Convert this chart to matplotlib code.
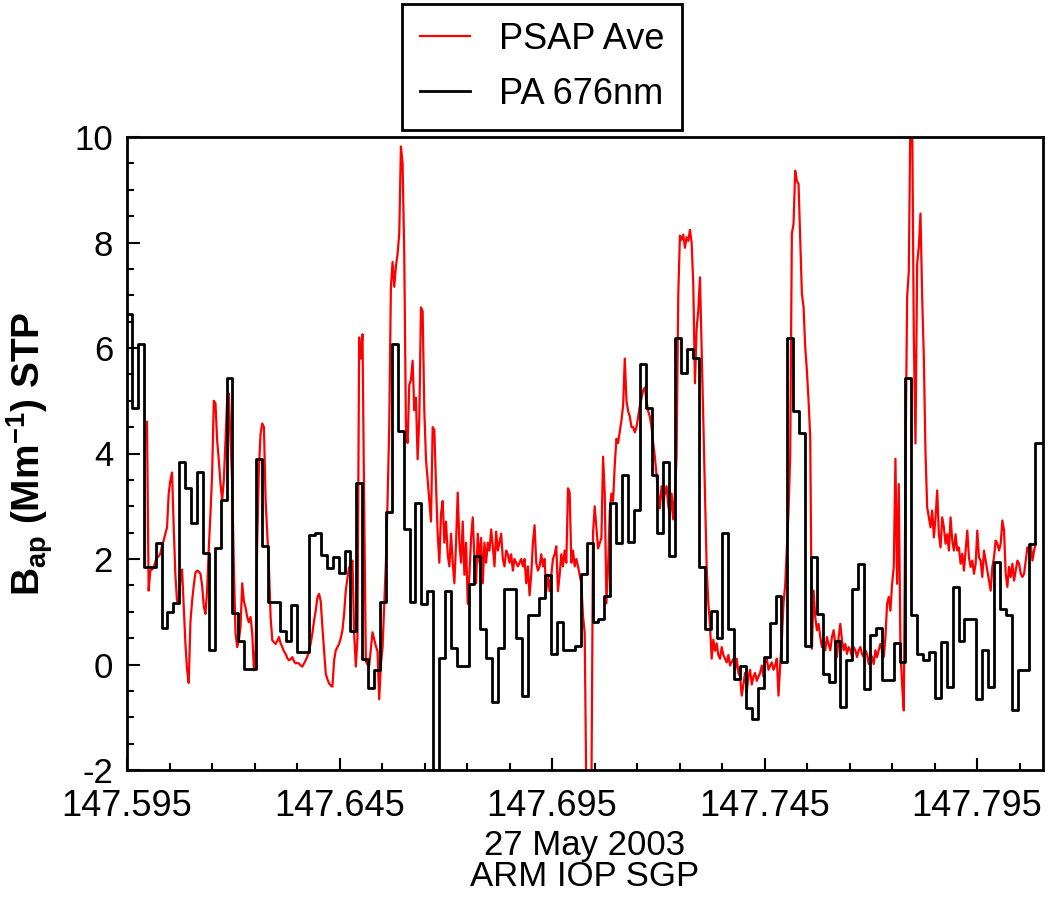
import numpy as np
import matplotlib
matplotlib.use('Agg')
import matplotlib.pyplot as plt

plt.rcParams['font.family'] = ['Liberation Sans', 'DejaVu Sans']
plt.rcParams['mathtext.fontset'] = 'custom'
plt.rcParams['mathtext.rm'] = 'Liberation Sans'
plt.rcParams['mathtext.bf'] = 'Liberation Sans:bold'
plt.rcParams['axes.unicode_minus'] = False

# PSAP average, regular samples from psap_start to psap_end (day of year)
psap_start = 147.5997
psap_end = 147.8088
psap_ave = [
    4.6, 1.4, 1.78, 1.8, 1.84, 1.95, 2.03, 2.05, 2.1, 2.25,
    2.35, 2.48, 2.6, 3.24, 3.49, 3.64, 2.6, 1.7, 1.2, 1.2,
    1.6, 1.8, 1.1, 0.4, -0.1, -0.35, 0.8, 1.2, 1.5, 1.74,
    1.78, 1.76, 1.72, 1.5, 1.1, 0.96, 1.4, 2.2, 2.86, 3.62,
    5.0, 4.95, 4.25, 3.87, 3.43, 3.12, 3.49, 4.25, 5.0, 5.14,
    4.25, 3.43, 1.84, 0.59, 0.33, 0.46, 0.71, 1.54, 1.2, 1.08,
    0.9, 0.8, 0.9, 0.59, -0.11, 0.27, 2.35, 3.73, 4.38, 4.57,
    4.5, 3.12, 2.48, 1.84, 0.9, 0.46, 0.42, 0.39, 0.45, 0.52,
    0.4, 0.33, 0.25, 0.2, 0.12, 0.08, 0.1, 0.14, 0.06, 0.02,
    0.03, 0.02, -0.02, -0.04, 0.02, 0.08, 0.15, 0.27, 0.4, 0.59,
    0.83, 1.02, 1.27, 1.34, 1.2, 0.71, 0.27, -0.17, -0.28, -0.36,
    -0.4, -0.42, 0.08, 0.27, 0.33, 0.39, 0.5, 0.65, 0.96, 1.4,
    1.64, 1.84, 1.9, 1.97, 0.59, -0.04, 0.5, 6.2,
    5.8, 6.26, 3.0, 0.06, 0.0, -0.02, 0.3, 0.61, 0.48, 0.35,
    0.25, -0.66, 0.0, 0.32, 1.15, 1.93, 3.1, 4.5, 7.16, 7.63,
    7.16, 7.55, 7.78, 8.17, 9.82, 9.5, 7.78, 4.5, 4.2, 5.3,
    5.4, 5.76, 4.82, 5.06, 3.89, 4.66, 6.77, 6.7, 4.82, 3.89,
    3.49, 3.1, 2.71, 4.5, 4.45, 3.41, 2.48, 1.93, 2.86, 3.1,
    2.31, 2.71, 2.09, 1.86, 2.48, 1.93, 1.54, 2.31, 3.26, 2.31,
    1.93, 2.71, 1.7, 2.31, 1.15, 1.7, 2.4, 2.79, 2.0, 1.54,
    2.48, 1.93, 2.4, 1.54, 2.31, 1.93, 2.31, 2.16, 2.56, 2.24,
    1.86, 2.52, 2.16, 2.31, 2.48, 2.0, 1.86, 2.16, 2.09, 1.93,
    2.09, 1.78, 2.0, 1.93, 1.86, 1.93, 2.0, 1.86, 2.0, 1.54,
    1.86, 1.31, 1.7, 2.31, 2.64, 1.93, 1.78, 1.86, 2.09, 1.86,
    2.0, 1.39, 1.7, 1.39, 1.7, 2.0, 2.09, 2.24, 1.39, 1.7,
    2.09, 1.86, 2.16, 1.93, 3.34, 3.26, 1.93, 2.16, 1.86, 2.0,
    1.86, 1.7, 1.54, 0.91, 0.6, -2.5, -2.5,
    -2.5, -2.5, 2.5, 3.0, 2.6, 2.2, 2.3, 2.4, 3.94, 3.24,
    1.16, 1.85, 2.9, 3.24, 3.1, 3.79, 4.28, 4.2, 4.42, 4.63,
    4.91, 5.8, 5.0, 4.8, 4.7, 4.5, 4.5, 4.4, 4.5, 4.7,
    4.9, 5.05, 5.2, 5.25, 5.0, 4.8, 4.7, 4.5, 4.2, 3.94,
    3.58, 3.24, 2.96, 3.38, 3.1, 3.24, 3.38, 3.02, 2.82, 3.24,
    2.75, 3.24, 3.94, 7.0, 8.13, 8.05, 8.15, 7.9, 8.1, 8.03,
    8.24, 8.0, 7.2, 5.33, 6.37, 6.71, 7.34, 6.02, 4.63, 3.24,
    1.85, 1.16, 0.74, 0.11, 0.47, 0.26, 0.4, 0.18, 0.11, 0.33,
    0.18, 0.11, 0.04, 0.18, -0.02, 0.05, 0.11, -0.1, 0.11, -0.16,
    -0.23, -0.59, -0.38, -0.16, -0.52, -0.23, -0.1, -0.38, -0.23, -0.16,
    -0.31, -0.23, -0.16, -0.02, -0.23, 0.04, 0.11, -0.1, -0.02, 0.04,
    -0.1, -0.02, 0.11, -0.59, -0.02, 0.47, 1.16, 1.5, 2.2, 2.9,
    3.94, 8.17, 8.35, 9.36, 9.17, 9.11, 8.1, 7.03, 6.78, 6.01,
    5.57, 5.0, 4.3, 0.3, 1.4, 0.9, 0.65, 0.77, 0.52,
    0.33, 0.46, 0.27, 0.52, 0.39, 0.27, 0.52, 0.65, 0.39, 0.14,
    0.52, 0.77, 0.46, 0.27, 0.39, 0.2, 0.33, 0.27, 0.14, 0.33,
    0.27, 0.14, 0.27, 0.33, 0.2, 0.14, 0.27, 0.2, 0.01, 0.2,
    0.14, 0.01, 0.27, 0.14, 0.27, 0.39, 0.27, 0.14, 0.52, 1.15,
    1.28, 1.02, 1.53, 1.85, 3.9, 1.53, 3.42, 0.27, -0.38, -0.87,
    3.74, 6.96, 7.46, 10.5, 10.5, 6.2, 4.19, 7.6, 7.92, 8.55,
    6.96, 5.82, 4.0, 2.98, 2.79, 2.6, 2.92, 2.41, 2.79, 3.3,
    2.47, 2.22, 2.79, 2.6, 2.29, 2.47, 2.16, 2.79, 2.35, 2.16,
    2.47, 2.16, 2.22, 1.91, 2.1, 1.78, 2.16, 2.54, 2.03, 1.85,
    1.97, 1.72, 1.91, 2.54, 2.03, 1.97, 1.66, 2.16, 1.97, 1.78,
    1.59, 1.4, 1.85, 2.03, 2.35, 2.29, 2.16, 2.29, 2.73, 2.54,
    1.72, 1.47, 1.85, 1.66, 1.91, 1.59, 1.78, 1.97, 1.91, 1.72,
    1.66, 1.72, 1.97, 2.22, 2.16, 2.29, 1.97, 2.16, 2.29,
]

# PA 676nm, 2 minute averages starting at pa_start
pa_start = 147.5948
pa_step = 2.0 / 1440.0
pa_676 = [
    6.65, 4.87, 6.08, 1.84, 1.84, 2.31, 0.70, 0.99, 1.16, 3.83,
    3.34, 2.69, 3.64, 2.12, 0.28, 2.20, 3.11, 5.44, 0.97, 0.44,
    -0.09, -0.09, 3.89, 2.24, 1.18, 1.18, 0.64, 0.44, 1.12, 0.23,
    0.23, 2.45, 2.50, 2.08, 1.82, 2.03, 1.73, 2.16, 0.63, 3.45,
    0.1, -0.45, -0.1, 1.19, 2.9, 6.08, 4.43, 2.56, 1.19, 3.07,
    1.15, 1.40, -2.5, 0.13, 1.40, 0.32, -0.02, -0.02, 1.53, 2.05,
    0.68, 0.13, -0.72, 0.32, 1.44, 1.44, 0.51, -0.59, 0.93, 0.93,
    1.27, 1.69, 0.2, 0.8, 0.27, 0.27, 0.36, 1.72, 2.31, 0.81,
    0.87, 1.29, 3.07, 2.3, 3.59, 2.33, 2.93, 5.7, 4.87, 3.59,
    2.5, 3.83, 2.06, 6.19, 5.53, 5.98, 5.81, 1.85, 0.67, 1.02,
    0.5, 2.5, 0.67, -0.27, -0.02, -0.82, -1.03, -0.44, 0.15, 0.78,
    1.29, 0.04, 6.19, 4.8, 4.38, 0.36, 2.03, 0.96, -0.18, -0.33,
    0.45, -0.81, 0.08, 1.43, 1.91, -0.46, 0.55, 0.7, -0.3, -0.3,
    0.4, 0.04, 5.44, 0.93, 0.2, 0.08, 0.23, -0.63, 0.42, -0.43,
    1.46, 0.45, 0.87, 0.87, -0.65, 0.27, -0.43, 1.94, 1.06, 0.93,
    -0.87, -0.11, -0.11, 2.29, 4.19, 4.19,
]

x_ticks = [147.595, 147.645, 147.695, 147.745, 147.795]
y_ticks = [-2, 0, 2, 4, 6, 8, 10]

fig = plt.figure(figsize=(10.47, 8.98), dpi=100)
ax = fig.add_axes([127 / 1047, 128 / 898, 916 / 1047, 633 / 898])

psap_x = np.linspace(psap_start, psap_end, len(psap_ave))
ax.plot(psap_x, psap_ave, color='#ff0000', lw=1.6, label='PSAP Ave', zorder=2)

pa_x = pa_start + np.arange(len(pa_676) + 1) * pa_step
ax.plot(pa_x, pa_676 + [pa_676[-1]], color='black', lw=2.0,
        drawstyle='steps-post', label='PA 676nm', zorder=3)

ax.set_xlim(147.595, 147.8105)
ax.set_ylim(-2, 10)
ax.set_xticks(x_ticks)
ax.set_xticklabels(['%.3f' % t for t in x_ticks])
ax.set_xticks(np.arange(147.605, 147.81, 0.01), minor=True)
ax.set_yticks(y_ticks)
ax.set_yticks(np.arange(-2, 10.01, 0.5), minor=True)

ax.tick_params(which='both', direction='in', top=False, right=False, width=1.5)
ax.tick_params(which='major', length=9)
ax.tick_params(axis='x', which='major', pad=14, labelsize=26)
ax.tick_params(axis='y', which='major', pad=10, labelsize=25)
ax.tick_params(which='minor', length=5)
for s in ax.spines.values():
    s.set_linewidth(2)

ax.set_xlabel('27 May 2003\nARM IOP SGP', fontsize=25, linespacing=0.95, labelpad=3)
ax.set_ylabel(r'B$_\mathbf{ap}$ (Mm$^\mathbf{-1}$) STP', fontsize=28,
              fontweight='bold', labelpad=14)

leg = fig.legend(loc='lower center', bbox_to_anchor=(542 / 1047, 768 / 898),
                 fontsize=26, fancybox=False, framealpha=1, edgecolor='black',
                 handlelength=1.4, handletextpad=0.8, labelspacing=0.55,
                 borderpad=0.5, borderaxespad=0)
leg.get_frame().set_linewidth(2)

fig.savefig('out.png', dpi=100, facecolor='white')
